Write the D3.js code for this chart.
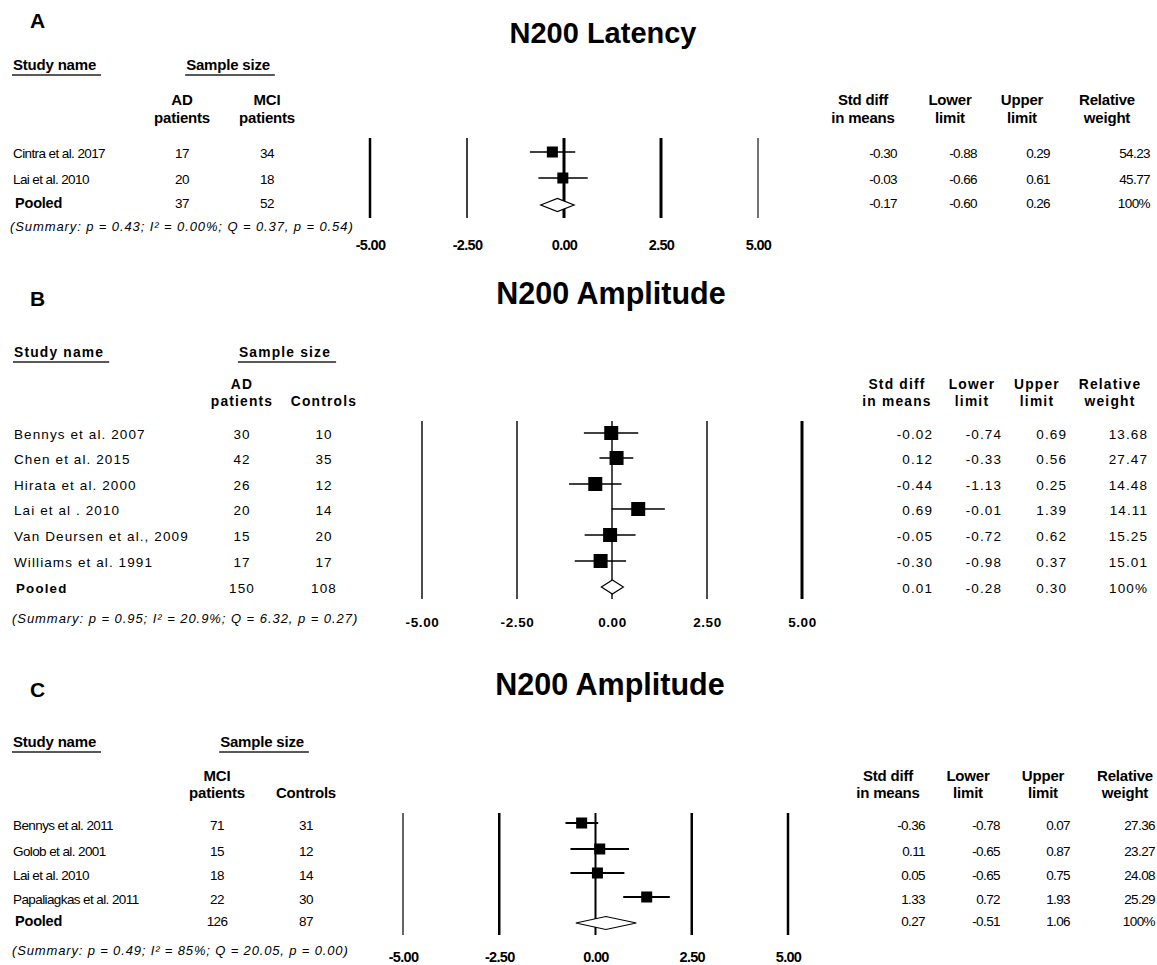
<!DOCTYPE html>
<html>
<head>
<meta charset="utf-8">
<script src="https://cdn.jsdelivr.net/npm/d3@7"></script>
<style>
  html, body { margin: 0; padding: 0; background: #fff; }
  svg { display: block; }
</style>
</head>
<body>
<svg id="chart" width="1157" height="965"></svg>
<script>
// ---- Shared axis ticks (standardised difference in means) ----
const axisTicks = [-5, -2.5, 0, 2.5, 5];

// ---- Panel A: N200 Latency, AD vs MCI ----
const titleA = "N200 Latency";
const studiesA = ["Cintra et al. 2017", "Lai et al. 2010", "Pooled"];
const group1A = [17, 20, 37];
const group2A = [34, 18, 52];
const smdA = [-0.30, -0.03, -0.17];
const lowerA = [-0.88, -0.66, -0.60];
const upperA = [0.29, 0.61, 0.26];
const weightA = [54.23, 45.77, 100];
const group1HeadA = ["AD", "patients"];
const group2HeadA = ["MCI", "patients"];
const summaryA = "(Summary: p = 0.43; I\u00B2 = 0.00%; Q = 0.37, p = 0.54)";

// ---- Panel B: N200 Amplitude, AD vs controls ----
const titleB = "N200 Amplitude";
const studiesB = ["Bennys et al. 2007", "Chen et al. 2015", "Hirata et al. 2000", "Lai et al . 2010",
                  "Van Deursen et al., 2009", "Williams et al. 1991", "Pooled"];
const group1B = [30, 42, 26, 20, 15, 17, 150];
const group2B = [10, 35, 12, 14, 20, 17, 108];
const smdB = [-0.02, 0.12, -0.44, 0.69, -0.05, -0.30, 0.01];
const lowerB = [-0.74, -0.33, -1.13, -0.01, -0.72, -0.98, -0.28];
const upperB = [0.69, 0.56, 0.25, 1.39, 0.62, 0.37, 0.30];
const weightB = [13.68, 27.47, 14.48, 14.11, 15.25, 15.01, 100];
const group1HeadB = ["AD", "patients"];
const group2HeadB = ["", "Controls"];
const summaryB = "(Summary: p = 0.95; I\u00B2 = 20.9%; Q = 6.32, p = 0.27)";

// ---- Panel C: N200 Amplitude, MCI vs controls ----
const titleC = "N200 Amplitude";
const studiesC = ["Bennys et al. 2011", "Golob et al. 2001", "Lai et al. 2010", "Papaliagkas et al. 2011", "Pooled"];
const group1C = [71, 15, 18, 22, 126];
const group2C = [31, 12, 14, 30, 87];
const smdC = [-0.36, 0.11, 0.05, 1.33, 0.27];
const lowerC = [-0.78, -0.65, -0.65, 0.72, -0.51];
const upperC = [0.07, 0.87, 0.75, 1.93, 1.06];
const weightC = [27.36, 23.27, 24.08, 25.29, 100];
const group1HeadC = ["MCI", "patients"];
const group2HeadC = ["", "Controls"];
const summaryC = "(Summary: p = 0.49; I\u00B2 = 85%; Q = 20.05, p = 0.00)";

const svg = d3.select("#chart");
svg.append("rect").attr("width", 1157).attr("height", 965).attr("fill", "#fff");

// plain hyphen-minus for negative numbers
const locale = d3.formatLocale({ decimal: ".", thousands: ",", grouping: [3], currency: ["", ""], minus: "-" });
const fmt2 = locale.format(".2f");

function buildRows(names, g1, g2, smd, lo, up, w) {
  return names.map((n, i) => ({
    name: n, g1: g1[i], g2: g2[i], smd: smd[i], lo: lo[i], up: up[i], w: w[i],
    pooled: i === names.length - 1
  }));
}

function drawPanel(p) {
  const g = svg.append("g")
    .attr("font-family", "'Liberation Sans', Arial, sans-serif")
    .attr("fill", "#000");
  const txt = (sel) => sel.attr("letter-spacing", p.spacing + "px").attr("font-size", p.size + "px");
  const head = (sel) => sel.attr("letter-spacing", p.headSpacing + "px").attr("font-size", p.headSize + "px")
    .attr("font-weight", "bold");

  // panel letter and title
  g.append("text").attr("x", p.letterX).attr("y", p.letterY)
    .attr("font-size", "21px").attr("font-weight", "bold").text(p.letter);
  g.append("text").attr("x", p.titleX).attr("y", p.titleY).attr("text-anchor", "middle")
    .attr("font-size", p.titleSize + "px").attr("font-weight", "bold").text(p.title);

  // underlined column group headers
  const studyHead = g.append("text").attr("x", p.nameX).attr("y", p.headY).call(head).text("Study name");
  const sampleHead = g.append("text").attr("x", p.sampleX).attr("y", p.headY)
    .attr("text-anchor", "middle").call(head).text("Sample size");
  [studyHead, sampleHead].forEach(t => {
    const b = t.node().getBBox();
    g.append("line").attr("x1", b.x - 1).attr("x2", b.x + b.width + 5)
      .attr("y1", p.headY + 5).attr("y2", p.headY + 5)
      .attr("stroke", "#222").attr("stroke-width", 1.5);
  });

  // sub headers for sample sizes
  [[p.g1X, p.g1Head], [p.g2X, p.g2Head]].forEach(([x, lines]) => {
    lines.forEach((l, i) => {
      g.append("text").attr("x", x).attr("y", p.subY[i]).attr("text-anchor", "middle").call(head).text(l);
    });
  });

  // right-hand statistic headers
  const statHeads = [["Std diff", "in means"], ["Lower", "limit"], ["Upper", "limit"], ["Relative", "weight"]];
  statHeads.forEach((lines, c) => {
    lines.forEach((l, i) => {
      g.append("text").attr("x", p.colHeadX[c]).attr("y", p.subY[i]).attr("text-anchor", "middle")
        .call(head).text(l);
    });
  });

  const rows = p.rows;

  // study rows: names, sample sizes, statistics
  rows.forEach((r, i) => {
    const ty = p.rowY[i] + (r.pooled ? p.pooledDy : p.textDy);
    const name = g.append("text").attr("x", r.pooled ? p.nameX + 2 : p.nameX).attr("y", ty).text(r.name);
    if (r.pooled) name.call(head).attr("font-size", (p.headSize - 0.5) + "px");
    else name.call(txt);
    g.append("text").attr("x", p.g1X).attr("y", ty).attr("text-anchor", "middle").call(txt).text(r.g1);
    g.append("text").attr("x", p.g2X).attr("y", ty).attr("text-anchor", "middle").call(txt).text(r.g2);
    const vals = [fmt2(r.smd), fmt2(r.lo), fmt2(r.up), r.pooled ? r.w + "%" : fmt2(r.w)];
    vals.forEach((v, c) => {
      g.append("text").attr("x", p.colRight[c]).attr("y", ty).attr("text-anchor", "end").call(txt).text(v);
    });
  });

  // summary line
  g.append("text").attr("x", p.summaryX).attr("y", p.summaryY)
    .attr("font-style", "italic").attr("font-size", "13px")
    .attr("letter-spacing", p.summarySpacing + "px").text(p.summary);

  // forest plot
  const x = d3.scaleLinear().domain([-5, 5]).range(p.xRange);

  g.selectAll(null).data(axisTicks).join("line")
    .attr("x1", d => x(d)).attr("x2", d => x(d))
    .attr("y1", p.lineY[0]).attr("y2", p.lineY[1])
    .attr("stroke", (d, i) => p.refColor[i]).attr("stroke-width", (d, i) => p.refWidth[i]);

  const axis = d3.axisBottom(x).tickValues(axisTicks).tickFormat(fmt2).tickSize(0).tickPadding(0);
  const ax = g.append("g").attr("transform", `translate(0,${p.tickY})`).call(axis);
  ax.select(".domain").remove();
  ax.selectAll("text").attr("dy", 0).attr("y", 0)
    .attr("font-family", "'Liberation Sans', Arial, sans-serif")
    .attr("font-weight", "bold").attr("fill", "#000")
    .attr("font-size", p.tickSize + "px").attr("letter-spacing", p.tickSpacing + "px");

  const studies = rows.filter(r => !r.pooled);
  studies.forEach((r) => {
    const i = rows.indexOf(r);
    const y = p.rowY[i];
    g.append("line").attr("x1", x(r.lo)).attr("x2", x(r.up)).attr("y1", y).attr("y2", y)
      .attr("stroke", "#000").attr("stroke-width", p.ciWidth);
    g.append("rect").attr("x", x(r.smd) - p.box / 2).attr("y", y - p.box / 2)
      .attr("width", p.box).attr("height", p.box).attr("fill", "#000");
  });

  const pr = rows[rows.length - 1];
  const py = p.rowY[rows.length - 1];
  const h = p.diamondH / 2;
  g.append("path")
    .attr("d", `M${x(pr.lo)},${py} L${x(pr.smd)},${py - h} L${x(pr.up)},${py} L${x(pr.smd)},${py + h} Z`)
    .attr("fill", "#fff").attr("stroke", "#000").attr("stroke-width", 1.2);
}

drawPanel({
  letter: "A", letterX: 30, letterY: 28,
  title: titleA, titleX: 603, titleY: 43, titleSize: 29,
  size: 13.5, spacing: -0.6, headSize: 15, headSpacing: -0.2,
  nameX: 13, headY: 70, sampleX: 228,
  g1X: 182, g2X: 267, g1Head: group1HeadA, g2Head: group2HeadA, subY: [105, 123],
  colHeadX: [863, 950, 1022, 1107], colRight: [897, 977, 1050, 1150],
  rows: buildRows(studiesA, group1A, group2A, smdA, lowerA, upperA, weightA),
  rowY: [152, 178, 205], textDy: 6, pooledDy: 3,
  summary: summaryA, summaryX: 10, summaryY: 231, summarySpacing: 0.9,
  xRange: [370, 758], lineY: [138, 218], tickY: 250, tickSize: 14.5, tickSpacing: -0.7,
  refWidth: [2.5, 1.5, 3, 3, 1.5], refColor: ["#000", "#000", "#000", "#000", "#444"],
  ciWidth: 1.5, box: 11, diamondH: 13
});

drawPanel({
  letter: "B", letterX: 30, letterY: 306,
  title: titleB, titleX: 611, titleY: 304, titleSize: 30.5,
  size: 13.5, spacing: 1.1, headSize: 13.8, headSpacing: 1.2,
  nameX: 14, headY: 357, sampleX: 285,
  g1X: 242, g2X: 324, g1Head: group1HeadB, g2Head: group2HeadB, subY: [389, 406],
  colHeadX: [897, 972, 1037, 1110], colRight: [933, 1002, 1067, 1148],
  rows: buildRows(studiesB, group1B, group2B, smdB, lowerB, upperB, weightB),
  rowY: [433, 458, 484, 509, 535, 561, 587], textDy: 6, pooledDy: 6,
  summary: summaryB, summaryX: 12, summaryY: 623, summarySpacing: 0.95,
  xRange: [422, 802], lineY: [421, 599], tickY: 627, tickSize: 13.5, tickSpacing: 0.6,
  refWidth: [1.5, 1.5, 1.5, 1.5, 3], refColor: ["#111", "#111", "#111", "#111", "#000"],
  ciWidth: 1.5, box: 14, diamondH: 14
});

drawPanel({
  letter: "C", letterX: 30, letterY: 697,
  title: titleC, titleX: 610, titleY: 695, titleSize: 30.5,
  size: 13.5, spacing: -0.6, headSize: 15, headSpacing: -0.2,
  nameX: 13, headY: 747, sampleX: 262,
  g1X: 217, g2X: 306, g1Head: group1HeadC, g2Head: group2HeadC, subY: [781, 798],
  colHeadX: [888, 968, 1043, 1125], colRight: [925, 1000, 1070, 1155],
  rows: buildRows(studiesC, group1C, group2C, smdC, lowerC, upperC, weightC),
  rowY: [823, 849, 873, 897, 923], textDy: 7, pooledDy: 3,
  summary: summaryC, summaryX: 12, summaryY: 955, summarySpacing: 0.85,
  xRange: [403, 788], lineY: [813, 935], tickY: 962, tickSize: 14.5, tickSpacing: -0.7,
  refWidth: [1.5, 2.5, 2, 2.5, 2.5], refColor: ["#333", "#000", "#000", "#000", "#000"],
  ciWidth: 2.2, box: 11, diamondH: 13
});
</script>
</body>
</html>
